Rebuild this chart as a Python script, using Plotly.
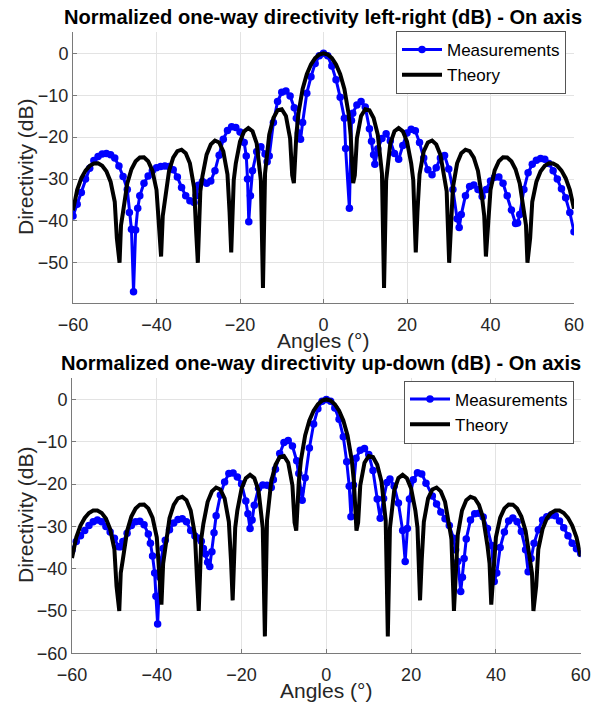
import plotly.graph_objects as go

FONT = "Liberation Sans, Arial, sans-serif"

# ---------------- data ----------------
theory_angle = [
    -60, -59, -58, -57, -56, -55, -54, -53, -52, -51, -50, -49.5, -48.85, -48.5, -48,
    -47, -46, -45, -44, -43, -42, -41, -40, -39.5, -38.9, -38.5, -38, -37, -36, -35,
    -34, -33, -32, -31, -30.5, -30.1, -29.5, -29, -28, -27, -26, -25, -24, -23, -22.5,
    -22.1, -21.5, -21, -20, -19, -18, -17, -16, -15, -14.5, -14, -13, -12, -11, -10,
    -9, -8, -7.5, -7.1, -6.5, -6, -5, -4, -3, -2, -1, 0,
    1, 2, 3, 4, 5, 6, 6.5, 7.1, 7.5, 8, 9, 10, 11, 12, 13, 14, 14.5, 15, 16, 17, 18,
    19, 20, 21, 21.5, 22.1, 22.5, 23, 24, 25, 26, 27, 28, 29, 29.5, 30.1, 30.5, 31,
    32, 33, 34, 35, 36, 37, 38, 38.5, 38.9, 39.5, 40, 41, 42, 43, 44, 45, 46, 47, 48,
    48.5, 48.85, 49.5, 50, 51, 52, 53, 54, 55, 56, 57, 58, 59, 60,
]
theory_db = [
    -37.5, -32.6, -29.8, -28.0, -26.85, -26.27, -26.25, -26.82, -28.16, -30.63, -35.42, -44.1, -50.0, -41.0, -37.79,
    -31.07, -27.68, -25.77, -24.86, -24.83, -25.74, -27.94, -32.6, -40.0, -48.5, -38.8, -34.55, -28.05, -24.91, -23.36,
    -23.0, -23.83, -26.25, -32.0, -42.6, -50.0, -32.9, -29.33, -24.19, -21.73, -20.81, -21.26, -23.4, -28.91, -37.9,
    -47.5, -30.3, -26.26, -21.05, -18.61, -17.83, -18.59, -21.51, -30.39, -56.0, -28.64, -19.37, -15.43, -13.6, -13.35,
    -14.95, -20.31, -29.1, -31.0, -19.42, -14.35, -8.51, -4.98, -2.65, -1.13, -0.28, 0.0,
    -0.28, -1.13, -2.65, -4.98, -8.51, -14.35, -19.42, -31.0, -29.1, -20.31, -14.95, -13.35, -13.6, -15.43, -19.37, -28.64, -56.0, -30.39, -21.51, -18.59, -17.83,
    -18.61, -21.05, -26.26, -30.3, -47.5, -37.9, -28.91, -23.4, -21.26, -20.81, -21.73, -24.19, -29.33, -32.9, -50.0, -42.6, -32.0,
    -26.25, -23.83, -23.0, -23.36, -24.91, -28.05, -34.55, -38.8, -48.5, -40.0, -32.6, -27.94, -25.74, -24.83, -24.86, -25.77, -27.68, -31.07, -37.79,
    -41.0, -50.0, -44.1, -35.42, -30.63, -28.16, -26.82, -26.25, -26.27, -26.85, -27.99, -29.8, -32.58, -37.1,
]

meas_lr_angle = [
    -60, -59, -58, -57, -56, -55, -54, -53, -52, -51, -50, -49, -48, -47, -46.5, -46, -45.5, -45, -44.5,
    -44, -43, -42, -41, -40, -39, -38, -37, -36, -35, -34, -33, -32, -31, -30.5, -30, -29, -28, -27,
    -26, -25, -24, -23, -22, -21, -20, -19, -18.5, -18.2, -17.9, -17.5, -17, -16, -15, -14, -13.5, -13,
    -12, -11, -10, -9, -8, -7, -6.5, -6, -5.5, -5, -4, -3, -2, -1, 0,
    1, 2, 3, 4, 5, 5.3, 6.2, 6.7, 7, 8, 9, 10, 11, 11.5, 12, 12.3, 13, 14, 15, 16, 17, 18, 19, 20,
    21, 22, 23, 24, 25, 26, 27, 28, 29, 30, 31, 32, 32.5, 33, 34, 35, 36, 37, 38, 39, 40, 41, 42,
    43, 44, 45, 46, 46.5, 47, 48, 49, 50, 51, 52, 53, 54, 55, 56, 57, 58, 59, 60,
]
meas_lr_db = [
    -38.8, -36.0, -33.2, -30.0, -27.4, -25.6, -24.6, -24.0, -23.9, -24.2, -25.0, -26.9, -29.4, -32.5, -38.0, -42.0, -56.9, -42.2, -37.0,
    -34.0, -31.0, -29.3, -28.0, -27.3, -27.0, -26.9, -27.0, -27.8, -29.5, -32.0, -34.0, -35.2, -35.6, -34.0, -31.5, -30.6, -31.0, -30.5,
    -28.0, -24.3, -20.5, -18.4, -17.5, -17.7, -18.8, -21.3, -24.5, -30.0, -40.2, -34.0, -28.0, -23.5, -22.3, -24.0, -25.9, -24.5,
    -16.5, -11.5, -9.3, -9.0, -10.2, -13.0, -15.5, -19.0, -20.5, -16.5, -9.5, -5.6, -2.4, -0.6, 0.0,
    -0.6, -3.0, -6.3, -10.5, -15.5, -22.7, -37.0, -16.0, -14.3, -12.3, -11.5, -12.8, -18.0, -21.0, -24.2, -26.5, -22.8, -20.3, -19.2, -20.9, -23.9, -25.3, -22.0, -19.0,
    -18.1, -18.5, -21.3, -25.0, -27.8, -29.0, -27.3, -25.0, -24.4, -27.6, -32.5, -39.5, -41.6, -38.5, -34.0, -31.8, -31.4, -32.5, -34.2, -32.5, -30.5, -29.6, -29.5,
    -31.0, -34.0, -37.4, -40.6, -40.5, -38.5, -32.5, -28.5, -26.5, -25.5, -25.1, -25.3, -26.3, -28.0, -30.0, -32.3, -34.5, -38.0, -42.6,
]

meas_ud_angle = [
    -60, -59, -58, -57, -56, -55, -54, -53, -52, -51, -50, -49, -48.5, -48, -47, -46, -45, -44, -43, -42,
    -41.5, -41, -40.5, -40.2, -39.8, -39.3, -39, -38.5, -38, -37, -36, -35, -34, -33, -32, -31, -30, -29.5,
    -29, -28.5, -28, -27.5, -27, -26.5, -26, -25, -24, -23, -22, -21, -20, -19, -18.5, -18, -17.5, -17,
    -16, -15, -14, -13, -12.5, -12, -11, -10, -9, -8, -7, -6.5, -6, -5.7, -5, -4, -3, -2, -1, 0,
    1, 2, 3, 4, 4.8, 5.4, 5.8, 6.4, 7, 8, 9, 10, 11, 12, 12.7, 13.5, 14.3, 15, 16, 17, 18, 18.6, 19.1,
    19.6, 20.5, 21.5, 22.5, 23.5, 25, 26, 27, 28, 29, 30, 30.5, 31, 31.7, 32.1, 32.5, 33, 34, 35, 36, 37,
    38, 39, 39.6, 40.2, 41, 42, 43, 44, 45, 46, 47, 47.6, 48.3, 49, 50, 51, 52, 53, 54, 55, 56, 57, 58,
    59, 60,
]
meas_ud_db = [
    -35.6, -33.6, -32.2, -31.0, -29.8, -28.9, -28.5, -28.9, -30.0, -31.3, -32.8, -34.8, -34.8, -33.6, -31.6, -29.8, -28.9, -28.8, -29.6, -31.8,
    -34.0, -37.0, -41.0, -46.5, -53.1, -42.0, -38.0, -35.2, -33.3, -30.8, -29.2, -28.4, -28.2, -28.9, -31.0, -32.3, -32.8, -33.5,
    -35.2, -36.5, -38.5, -39.5, -36.0, -31.5, -27.5, -22.6, -19.5, -17.5, -17.4, -18.3, -20.0, -24.0, -27.0, -30.5, -28.5, -25.0,
    -21.0, -20.2, -20.3, -20.8, -19.0, -16.5, -12.8, -10.2, -9.7, -11.0, -14.5, -17.5, -21.5, -23.8, -18.5, -11.5, -5.8, -2.2, -0.4, 0.0,
    -0.4, -2.0, -4.7, -8.8, -14.7, -20.5, -27.7, -20.2, -13.9, -12.0, -11.6, -13.0, -16.8, -23.5, -28.1, -23.4, -19.6, -18.8, -20.5, -24.5, -31.0, -38.3, -30.5,
    -23.5, -19.0, -17.3, -17.6, -19.8, -22.8, -24.7, -26.6, -28.2, -29.8, -32.8, -35.5, -38.3, -45.4, -42.0, -37.6, -33.0, -28.5, -27.0, -26.9, -27.8,
    -30.5, -34.5, -43.0, -41.0, -35.0, -31.3, -28.7, -28.0, -28.9, -31.2, -35.5, -40.7, -37.6, -34.0, -30.8, -28.5, -27.7, -27.3, -27.5, -28.7, -30.3, -32.2, -34.0,
    -35.3, -36.4,
]

x_ticks = [-60, -40, -20, 0, 20, 40, 60]
y_ticks_top = [0, -10, -20, -30, -40, -50]
y_ticks_bottom = [0, -10, -20, -30, -40, -50, -60]

title_top = "Normalized one-way directivity left-right (dB) - On axis"
title_bottom = "Normalized one-way directivity up-down (dB) - On axis"
x_label = "Angles (°)"
y_label = "Directivity (dB)"

# ---------------- figure ----------------
W, H = 592, 702
BLUE = "#0000ff"
AXC = "#7a7a7a"
GRID = "#e3e3e3"
TICKC = "#262626"


def px(v):
    return v / W


def py(v):
    return 1 - v / H


fig = go.Figure()


def add_panel(xa, ya, legend, angles, values):
    fig.add_trace(go.Scatter(
        x=angles, y=values, mode="lines+markers", name="Measurements",
        line=dict(color=BLUE, width=3), marker=dict(color=BLUE, size=7.5, symbol="circle"),
        xaxis=xa, yaxis=ya, legend=legend))
    fig.add_trace(go.Scatter(
        x=theory_angle, y=theory_db, mode="lines", name="Theory",
        line=dict(color="black", width=4),
        xaxis=xa, yaxis=ya, legend=legend))


add_panel("x", "y", "legend", meas_lr_angle, meas_lr_db)
add_panel("x2", "y2", "legend2", meas_ud_angle, meas_ud_db)


def xax(domain, anchor):
    return dict(domain=domain, anchor=anchor, range=[-60, 60], tickvals=x_ticks,
                showgrid=True, gridcolor=GRID, gridwidth=1, zeroline=False,
                showline=True, linecolor=AXC, linewidth=1,
                ticks="inside", ticklen=4, tickcolor=AXC, ticklabeloverflow="allow",
                tickfont=dict(size=18, color=TICKC, family=FONT), ticklabelstandoff=5)


def yax(domain, anchor, rng, tv):
    return dict(domain=domain, anchor=anchor, range=rng, tickvals=tv,
                showgrid=True, gridcolor=GRID, gridwidth=1, zeroline=False,
                showline=True, linecolor=AXC, linewidth=1,
                ticks="inside", ticklen=4, tickcolor=AXC, ticklabeloverflow="allow",
                tickfont=dict(size=18, color=TICKC, family=FONT), ticklabelstandoff=0)


leg_common = dict(xanchor="center", yanchor="middle", bgcolor="white",
                  bordercolor="#555555", borderwidth=1,
                  font=dict(size=17, color="black", family=FONT),
                  tracegroupgap=0, itemwidth=40)

fig.update_layout(
    width=W, height=H, margin=dict(l=0, r=0, t=0, b=0, autoexpand=False),
    paper_bgcolor="white", plot_bgcolor="white",
    font=dict(family=FONT, color=TICKC),
    xaxis=xax([px(73), px(574)], "y"),
    yaxis=yax([py(303), py(32)], "x", [-59.6, 5.1], y_ticks_top),
    xaxis2=xax([px(72), px(580.7)], "y2"),
    yaxis2=yax([py(653.3), py(378.3)], "x2", [-60, 5], y_ticks_bottom),
    legend=dict(x=px(481), y=py(62.5), **leg_common),
    legend2=dict(x=px(489), y=py(412), **leg_common),
    showlegend=True,
)

ann = [
    dict(text="<b>" + title_top + "</b>", x=px(322.5), y=py(17), font=dict(size=20.1, color="black")),
    dict(text="<b>" + title_bottom + "</b>", x=px(321), y=py(363), font=dict(size=20.1, color="black")),
    dict(text=x_label, x=px(323), y=py(340), font=dict(size=21, color=TICKC)),
    dict(text=x_label, x=px(326), y=py(690), font=dict(size=21, color=TICKC)),
    dict(text=y_label, x=px(25), y=py(167), textangle=-90, font=dict(size=21, color=TICKC)),
    dict(text=y_label, x=px(25), y=py(515), textangle=-90, font=dict(size=21, color=TICKC)),
]
for a in ann:
    fig.add_annotation(xref="paper", yref="paper", showarrow=False,
                       xanchor="center", yanchor="middle", borderpad=0, **a)

fig.write_html(
    "out.html",
    config={"displayModeBar": False},
    post_script="document.body.style.margin='0';document.body.style.overflow='hidden';",
)
